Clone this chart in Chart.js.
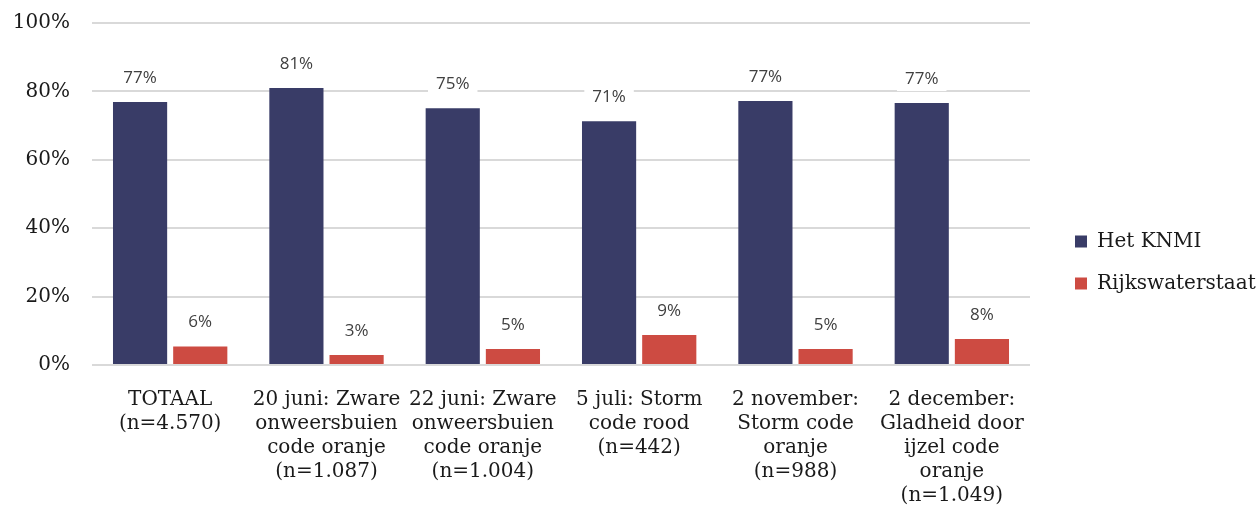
<!DOCTYPE html>
<html>
<head>
<meta charset="utf-8">
<script src="https://cdn.jsdelivr.net/npm/chart.js@4/dist/chart.umd.min.js"></script>
<style>
html,body{margin:0;padding:0;background:#fff;}
#wrap{width:1259px;height:513px;position:relative;}
</style>
</head>
<body>
<div id="wrap"><canvas id="c" width="1259" height="513"></canvas></div>
<script>
const categories = [
  ["TOTAAL","(n=4.570)"],
  ["20 juni: Zware","onweersbuien","code oranje","(n=1.087)"],
  ["22 juni: Zware","onweersbuien","code oranje","(n=1.004)"],
  ["5 juli: Storm","code rood","(n=442)"],
  ["2 november:","Storm code","oranje","(n=988)"],
  ["2 december:","Gladheid door","ijzel code","oranje","(n=1.049)"]
];
const knmiValues = [76.9, 81.0, 75.1, 71.3, 77.2, 76.6];
const rwsValues = [5.4, 2.9, 4.7, 8.8, 4.7, 7.6];
const knmiLabels = ["77%","81%","75%","71%","77%","77%"];
const rwsLabels = ["6%","3%","5%","9%","5%","8%"];
const yTicks = [0,20,40,60,80,100];

const serif = "'DejaVu Serif', 'Liberation Serif', serif";
const sans = "'Open Sans', 'Noto Sans', sans-serif";
const LEGEND_WIDTH = 229;
const LEGEND_SHIFT = 23;
const LEGEND_VSHIFT = -3;

const labelPlugin = {
  id: 'valueLabels',
  afterDatasetsDraw(chart) {
    const ctx = chart.ctx;
    ctx.save();
    ctx.font = "17px " + sans;
    ctx.textAlign = 'center';
    ctx.textBaseline = 'middle';
    chart.data.datasets.forEach((ds, di) => {
      const meta = chart.getDatasetMeta(di);
      meta.data.forEach((bar, i) => {
        const txt = ds.valueLabels[i];
        const x = bar.x, y = bar.y - 24;
        const w = ctx.measureText(txt).width + 16;
        ctx.fillStyle = '#ffffff';
        ctx.fillRect(x - w/2, y - 12, w, 24);
        ctx.fillStyle = '#404040';
        ctx.fillText(txt, x, y);
      });
    });
    ctx.restore();
  }
};

const legendGap = {
  id: 'legendGap',
  beforeInit(chart) {
    const lg = chart.legend;
    if (!lg) return;
    const orig = lg.fit;
    lg.fit = function() { orig.call(this); this.width = LEGEND_WIDTH; };
  },
  afterLayout(chart) {
    const lg = chart.legend;
    if (!lg) return;
    lg.left += LEGEND_SHIFT;
    lg.top += LEGEND_VSHIFT;
    lg.bottom += LEGEND_VSHIFT;
    if (lg.legendHitBoxes) lg.legendHitBoxes.forEach(b => { b.left += LEGEND_SHIFT; b.top += LEGEND_VSHIFT; });
  }
};

new Chart(document.getElementById('c'), {
  type: 'bar',
  data: {
    labels: categories,
    datasets: [
      {label: 'Het KNMI', data: knmiValues, valueLabels: knmiLabels, backgroundColor: '#393c67'},
      {label: 'Rijkswaterstaat', data: rwsValues, valueLabels: rwsLabels, backgroundColor: '#cd4b42'}
    ]
  },
  options: {
    responsive: false,
    animation: false,
    devicePixelRatio: 1,
    layout: {padding: {top: 23, left: 10, right: 0, bottom: 5}},
    datasets: {bar: {categoryPercentage: 0.77, barPercentage: 0.9}},
    scales: {
      x: {
        grid: {display: false, drawTicks: false},
        border: {display: false},
        ticks: {color: '#1a1a1a', font: {family: serif, size: 20, lineHeight: 1.2}, maxRotation: 0, autoSkip: false, padding: 23},
        afterFit: (s) => { s.height = 143; }
      },
      y: {
        min: 0, max: 100,
        afterBuildTicks: (axis) => { axis.ticks = yTicks.map(v => ({value: v})); },
        grid: {color: '#d9d9d9', lineWidth: 2, drawTicks: false},
        border: {display: false},
        ticks: {color: '#1a1a1a', font: {family: serif, size: 20}, padding: 22, callback: v => v + '%'},
        afterFit: (s) => { s.width = 82; s.paddingTop = 12; s.paddingBottom = 12; }
      }
    },
    plugins: {
      legend: {
        position: 'right',
        align: 'center',
        labels: {color: '#1a1a1a', font: {family: serif, size: 20}, boxWidth: 12, boxHeight: 12, padding: 22}
      },
      tooltip: {enabled: false}
    }
  },
  plugins: [labelPlugin, legendGap]
});
</script>
</body>
</html>
